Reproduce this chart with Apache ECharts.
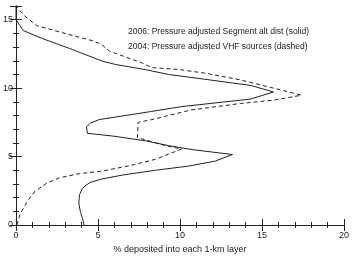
<!DOCTYPE html>
<html>
<head>
<meta charset="utf-8">
<script src="https://cdn.jsdelivr.net/npm/echarts@6/dist/echarts.min.js"></script>
<style>
  html, body { margin: 0; padding: 0; background: #fff; }
  #chart { width: 352px; height: 259px; }
</style>
</head>
<body>
<div id="chart"></div>
<script>
// 2006 segment altitude distribution (solid): percent per layer vs altitude (km)
const segPct = [4.15, 4.05, 3.92, 3.83, 3.87, 4.05, 4.5, 5.2, 6.5, 8.5, 10.5, 12.15, 13.2,
  10.8, 9.3, 7.9, 5.9, 4.35, 4.3, 4.55, 5.07, 8.28, 10.1, 14.3, 15.7,
  14.3, 11.5, 9.3, 7.9, 6.06, 5.27, 3.26, 1.66, 0.45, 0.0, 0.0];
const segAlt = [0.0, 0.5, 1.0, 1.6, 2.2, 2.7, 3.1, 3.35, 3.65, 4.0, 4.3, 4.67, 5.15,
  5.5, 5.8, 6.15, 6.5, 6.7, 7.18, 7.45, 7.7, 8.3, 8.65, 9.2, 9.72,
  10.2, 10.65, 11.0, 11.35, 11.73, 11.97, 12.9, 13.6, 14.2, 15.0, 16.0];

// 2004 VHF sources (dashed)
const vhfPct = [0.05, 0.25, 0.65, 1.1, 1.86, 2.66, 3.86, 5.3, 7.0, 8.5, 10.1,
  9.1, 7.66, 7.4, 7.45, 8.28, 10.66, 13.7, 15.7, 17.4,
  16.7, 13.7, 11.5, 9.85, 8.28, 7.66, 5.7, 5.2, 4.7, 2.66, 1.25, 0.5, 0.0];
const vhfAlt = [0.0, 0.8, 1.65, 2.4, 3.05, 3.45, 3.75, 3.95, 4.35, 4.8, 5.55,
  5.8, 6.3, 6.4, 7.5, 7.7, 8.4, 8.88, 9.12, 9.48,
  9.7, 10.6, 11.1, 11.37, 11.5, 11.85, 12.7, 13.2, 13.45, 14.1, 14.57, 15.3, 16.0];

const xTicks = [0, 5, 10, 15, 20];
const yTicks = [0, 5, 10, 15];

const legendLines = [
  "2006: Pressure adjusted Segment alt dist (solid)",
  "2004: Pressure adjusted VHF sources (dashed)"
];
const xTitle = "% deposited into each 1-km layer";

const ink = "#222";
const font = "Liberation Sans";

function axisBase(labels) {
  return {
    type: "value",
    splitLine: { show: false },
    axisLine: { show: true, lineStyle: { color: ink, width: 1 } },
    axisTick: { show: true, inside: true, length: 6, lineStyle: { color: ink } },
    minorTick: { show: true, splitNumber: 5, length: 3, lineStyle: { color: ink } },
    axisLabel: labels ? {
      show: true, color: ink, fontFamily: font, fontSize: 9,
      showMaxLabel: false
    } : { show: false }
  };
}

const chart = echarts.init(document.getElementById("chart"));

const xBottom = Object.assign(axisBase(true), {
  position: "bottom", min: xTicks[0], max: xTicks[xTicks.length - 1], interval: 5,
  name: xTitle, nameLocation: "middle", nameGap: 20,
  nameTextStyle: { color: ink, fontFamily: font, fontSize: 9 }
});
xBottom.axisLabel.showMaxLabel = true;
xBottom.axisLabel.margin = 6;
const xTop = Object.assign(axisBase(false), { position: "top", min: 0, max: 20, interval: 5 });
const yLeft = Object.assign(axisBase(true), { position: "left", min: yTicks[0], max: 16, interval: 5 });
yLeft.axisLabel.margin = 3;
const yRight = Object.assign(axisBase(false), { position: "right", min: 0, max: 16, interval: 5 });

chart.setOption({
  animation: false,
  backgroundColor: "#fff",
  grid: { left: 12, right: 8, top: 6, bottom: 27, containLabel: false },
  xAxis: [xBottom, xTop],
  yAxis: [yLeft, yRight],
  graphic: legendLines.map(function (t, i) {
    return {
      type: "text", left: 128, top: 27 + i * 15,
      style: { text: t, fill: ink, font: "8.5px " + font }
    };
  }),
  series: [
    {
      name: "2006", type: "line", xAxisIndex: 0, yAxisIndex: 0,
      showSymbol: false, clip: true,
      data: segPct.map(function (v, i) { return [v, segAlt[i]]; }),
      lineStyle: { color: ink, width: 1 }
    },
    {
      name: "2004", type: "line", xAxisIndex: 0, yAxisIndex: 0,
      showSymbol: false, clip: true,
      data: vhfPct.map(function (v, i) { return [v, vhfAlt[i]]; }),
      lineStyle: { color: ink, width: 1, type: [4, 3] }
    }
  ]
});
</script>
</body>
</html>
